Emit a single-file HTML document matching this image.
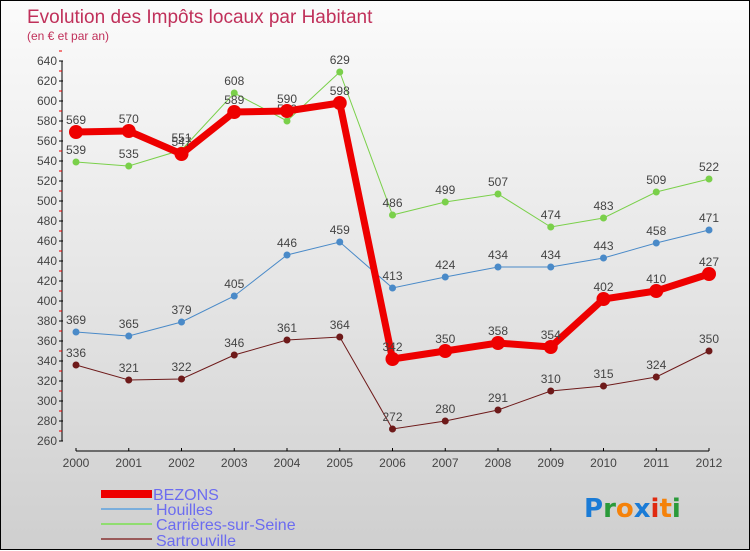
<!DOCTYPE html>
<html><head><meta charset="utf-8"><style>
body{margin:0;width:750px;height:550px;overflow:hidden;font-family:"Liberation Sans",sans-serif}
#wrap{position:relative;width:748px;height:548px;border:1px solid #000;background:linear-gradient(#fbfbfb,#e6e6e6 50%,#cfcfcf)}
svg{position:absolute;left:0;top:0}
</style></head><body>
<div id="wrap">
<svg id="c" width="750" height="550">
<text x="26" y="22" font-size="19" fill="#c0305a">Evolution des Impôts locaux par Habitant</text>
<text x="26" y="39" font-size="12" fill="#c0305a">(en € et par an)</text>
<text x="152" y="499" font-size="16" fill="#6c6cf0">BEZONS</text>
<text x="155" y="514" font-size="16" fill="#6c6cf0">Houilles</text>
<text x="155" y="529" font-size="16" fill="#6c6cf0">Carrières-sur-Seine</text>
<text x="155" y="545" font-size="16" fill="#6c6cf0">Sartrouville</text>
<rect x="100" y="489" width="51" height="8" fill="#e00"/>
<line x1="100" y1="508" x2="151" y2="508" stroke="#7aaedc" stroke-width="2"/>
<line x1="100" y1="523" x2="151" y2="523" stroke="#90dd70" stroke-width="2"/>
<line x1="100" y1="538" x2="151" y2="538" stroke="#9a5a5a" stroke-width="2"/>
<text x="583" y="516" font-size="26" font-weight="bold" font-family="'DejaVu Sans',sans-serif"><tspan fill="#1a7bd6">P</tspan><tspan fill="#2a9a3a">r</tspan><tspan fill="#f5820a">o</tspan><tspan fill="#1a7bd6">x</tspan><tspan fill="#e02a10">i</tspan><tspan fill="#f5820a">t</tspan><tspan fill="#2a9a3a">i</tspan></text>
</svg></div>
<script>
const years=[2000,2001,2002,2003,2004,2005,2006,2007,2008,2009,2010,2011,2012];
const yTicks=[260,280,300,320,340,360,380,400,420,440,460,480,500,520,540,560,580,600,620,640];
const bezons=[569,570,547,589,590,598,342,350,358,354,402,410,427];
const houilles=[369,365,379,405,446,459,413,424,434,434,443,458,471];
const carrieres=[539,535,551,608,580,629,486,499,507,474,483,509,522];
const sartrouville=[336,321,322,346,361,364,272,280,291,310,315,324,350];
const NS="http://www.w3.org/2000/svg";
const svg=document.getElementById('c');
const X=i=>75+i*52.75;
const Y=v=>440-(v-260);
function mk(t,a,p){const e=document.createElementNS(NS,t);for(const k in a)e.setAttribute(k,a[k]);(p||svg).appendChild(e);return e;}
// axes
let ax=mk('line',{x1:61,y1:60,x2:61,y2:440,stroke:'#000','stroke-width':1});


let xa=mk('line',{x1:75,y1:450,x2:708,y2:450,stroke:'#000','stroke-width':1});


yTicks.forEach(v=>{
 mk('line',{x1:58,y1:Y(v),x2:62,y2:Y(v),stroke:'#000'});
 mk('line',{x1:58,y1:Y(v)-10,x2:61,y2:Y(v)-10,stroke:'#e00'});
 const t=mk('text',{x:56,y:Y(v)+4,'text-anchor':'end','font-size':12,fill:'#444'});
 t.textContent=v;
 
 
});
years.forEach((y,i)=>{
 mk('line',{x1:X(i),y1:447,x2:X(i),y2:450,stroke:'#000'});
 const t=mk('text',{x:X(i),y:466,'text-anchor':'middle','font-size':12,fill:'#444'});
 t.textContent=y;
 
 
});
function series(d,color,w,r,name){
 const g=mk('g',{});
 
 
 const p=mk('polyline',{points:d.map((v,i)=>X(i)+','+Y(v)).join(' '),fill:'none',stroke:color,'stroke-width':w},g);
 
 
 d.forEach((v,i)=>{
  const c=mk('circle',{cx:X(i),cy:Y(v),r:r,fill:color},g);
  
  
  const t=mk('text',{x:X(i),y:Y(v)-8,'text-anchor':'middle','font-size':12,fill:'#444'},g);
  t.textContent=v;
  
  
 });
}
series(sartrouville,'#6e1a1a',1,3.5,'sartrouville');
series(houilles,'#4a8ac8',1,3.5,'houilles');
series(carrieres,'#7ad04a',1,3.5,'carrieres');
series(bezons,'#ee0000',7,7,'bezons');
</script>
</body></html>
